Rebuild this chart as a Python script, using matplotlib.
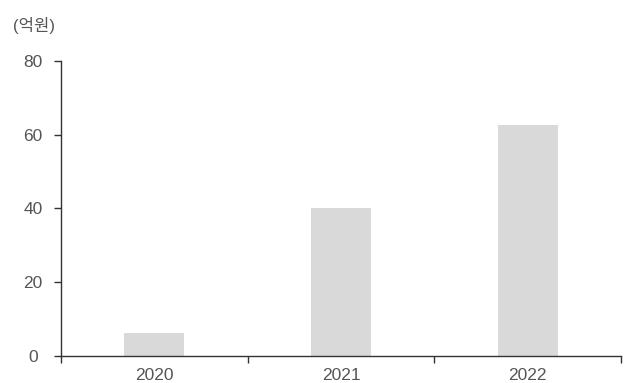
import matplotlib
matplotlib.use("Agg")
import matplotlib.pyplot as plt
import numpy as np

plt.rcParams['font.family'] = ['Liberation Sans', 'Noto Sans CJK KR']

years = ['2020', '2021', '2022']
values = [6.0, 40.1, 62.6]

fig = plt.figure(figsize=(6.27, 3.83), dpi=100)
ax = fig.add_axes([61 / 627, 27.5 / 383, 560 / 627, 294.5 / 383])

x = np.arange(len(years))
ax.bar(x, values, width=0.32, color='#d9d9d9', zorder=2)

ax.set_xlim(-0.5, len(years) - 0.5)
ax.set_ylim(0, 80)
ax.set_yticks([0, 20, 40, 60, 80])

# category labels centred, tick marks on boundaries
ax.set_xticks(x)
ax.set_xticklabels(years)
ax.set_xticks(np.arange(-0.5, len(years)), minor=True)
ax.tick_params(axis='x', which='major', length=0, pad=9, labelsize=12.5, labelcolor='#555555')
ax.tick_params(axis='x', which='minor', length=5, width=1, color='#333333', direction='out')
ax.tick_params(axis='y', length=5, width=1, color='#333333', direction='out',
               pad=15, labelsize=12.5, labelcolor='#555555')
for lbl in ax.get_yticklabels():
    lbl.set_horizontalalignment('center')

for s in ['top', 'right']:
    ax.spines[s].set_visible(False)
for s in ['left', 'bottom']:
    ax.spines[s].set_color('#333333')
    ax.spines[s].set_linewidth(1)

fig.text(13 / 627, 1 - 25 / 383, '(억원)', fontsize=12, color='#555555', va='center', ha='left')

fig.savefig('out.png', dpi=100)
